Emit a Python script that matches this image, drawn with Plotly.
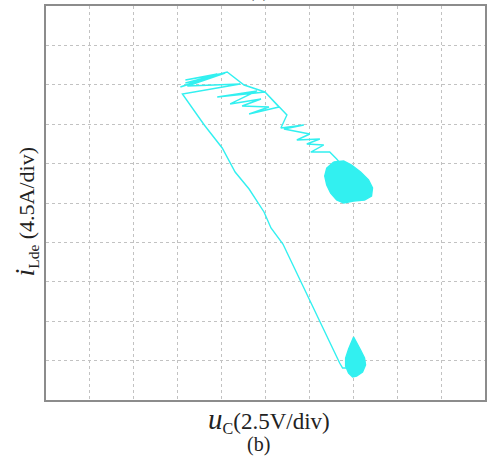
import plotly.graph_objects as go

# Trajectory (in divisions: x = u_C div, y = i_Lde div), from lower equilibrium up and back to upper one
traj_x = [6.939, 6.757, 6.689, 6.440, 5.986, 5.397, 5.125, 4.966, 4.626, 4.308, 4.014, 3.605, 3.107,
          4.422, 3.220, 4.082, 3.175, 3.900, 3.061, 3.764, 3.175, 4.127, 4.512, 4.989,
          3.900, 4.807, 4.195, 4.898, 4.467, 5.079, 4.626, 5.306, 4.989, 5.488,
          5.351, 5.873, 5.420, 6.009, 5.714, 6.236, 5.941, 6.327, 6.032, 6.463, 6.621, 6.780]
traj_y = [0.812, 0.812, 0.939, 1.523, 2.614, 3.959, 4.365, 4.772, 5.355, 5.787, 6.396, 6.980, 7.766,
          8.020, 7.970, 8.299, 8.122, 8.274, 7.944, 8.198, 8.046, 8.325, 7.995, 7.817,
          7.690, 7.843, 7.513, 7.640, 7.462, 7.437, 7.259, 7.437, 7.817, 7.234,
          6.904, 6.980, 6.878, 6.751, 6.599, 6.624, 6.497, 6.472, 6.294, 6.294, 6.117, 5.900]

# Upper equilibrium cluster outline
up_x = [6.553, 6.780, 6.961, 7.166, 7.347, 7.438, 7.415, 7.256, 7.007, 6.780, 6.621, 6.485, 6.395, 6.349, 6.395, 6.553]
up_y = [6.041, 6.066, 5.964, 5.787, 5.584, 5.381, 5.178, 5.076, 5.051, 5.000, 5.076, 5.254, 5.457, 5.685, 5.888, 6.041]

# Lower equilibrium cluster outline
lo_x = [7.007, 7.075, 7.166, 7.256, 7.279, 7.211, 7.075, 6.984, 6.893, 6.825, 6.825, 6.893, 6.961, 7.007]
lo_y = [1.599, 1.472, 1.269, 1.066, 0.888, 0.711, 0.609, 0.584, 0.685, 0.863, 1.066, 1.294, 1.472, 1.599]

CYAN = "rgb(50,240,240)"
SERIF = "Liberation Serif, Times New Roman, serif"

fig = go.Figure()
fig.add_trace(go.Scatter(x=traj_x, y=traj_y, mode="lines",
                         line=dict(color=CYAN, width=1.4), hoverinfo="skip"))
fig.add_trace(go.Scatter(x=up_x, y=up_y, mode="lines", fill="toself", fillcolor=CYAN,
                         line=dict(color=CYAN, width=1.4), hoverinfo="skip"))
fig.add_trace(go.Scatter(x=lo_x, y=lo_y, mode="lines", fill="toself", fillcolor=CYAN,
                         line=dict(color=CYAN, width=1.4), hoverinfo="skip"))

axis_common = dict(range=[0, 10], dtick=1, tick0=0, showticklabels=False, ticks="",
                   showgrid=True, gridcolor="#c2c2c2", griddash="dot", gridwidth=1,
                   zeroline=False, showline=True, linecolor="#8c8c8c", linewidth=2, mirror=True,
                   fixedrange=True)

fig.update_layout(
    width=489, height=470,
    margin=dict(l=46, r=2, t=6, b=70),
    paper_bgcolor="white", plot_bgcolor="white",
    showlegend=False,
    xaxis=axis_common,
    yaxis=axis_common,
    annotations=[
        dict(xref="paper", yref="paper", x=0.508, y=-0.052, xanchor="center", yanchor="middle",
             showarrow=False, font=dict(family=SERIF, size=23, color="#222"),
             text="<i><span style='font-size:29px'>u</span></i><sub>C</sub>(2.5V/div)"),
        dict(xref="paper", yref="paper", x=-0.047, y=0.477, xanchor="center", yanchor="middle",
             textangle=-90, showarrow=False, font=dict(family=SERIF, size=22, color="#222"),
             text="<i><span style='font-size:28px'>i</span></i><sub>Lde</sub> (4.5A/div)"),
        dict(xref="paper", yref="paper", x=0.483, y=-0.114, xanchor="center", yanchor="middle",
             showarrow=False, font=dict(family=SERIF, size=20, color="#222"), text="(b)"),
        dict(xref="paper", yref="paper", x=0.485, y=1.006, xanchor="center", yanchor="bottom",
             showarrow=False, font=dict(family=SERIF, size=19, color="#222"), text="(a)"),
    ],
)

fig.write_html("out.html", config={"displayModeBar": False},
               post_script="document.body.style.margin='0';document.body.style.overflow='hidden';")
